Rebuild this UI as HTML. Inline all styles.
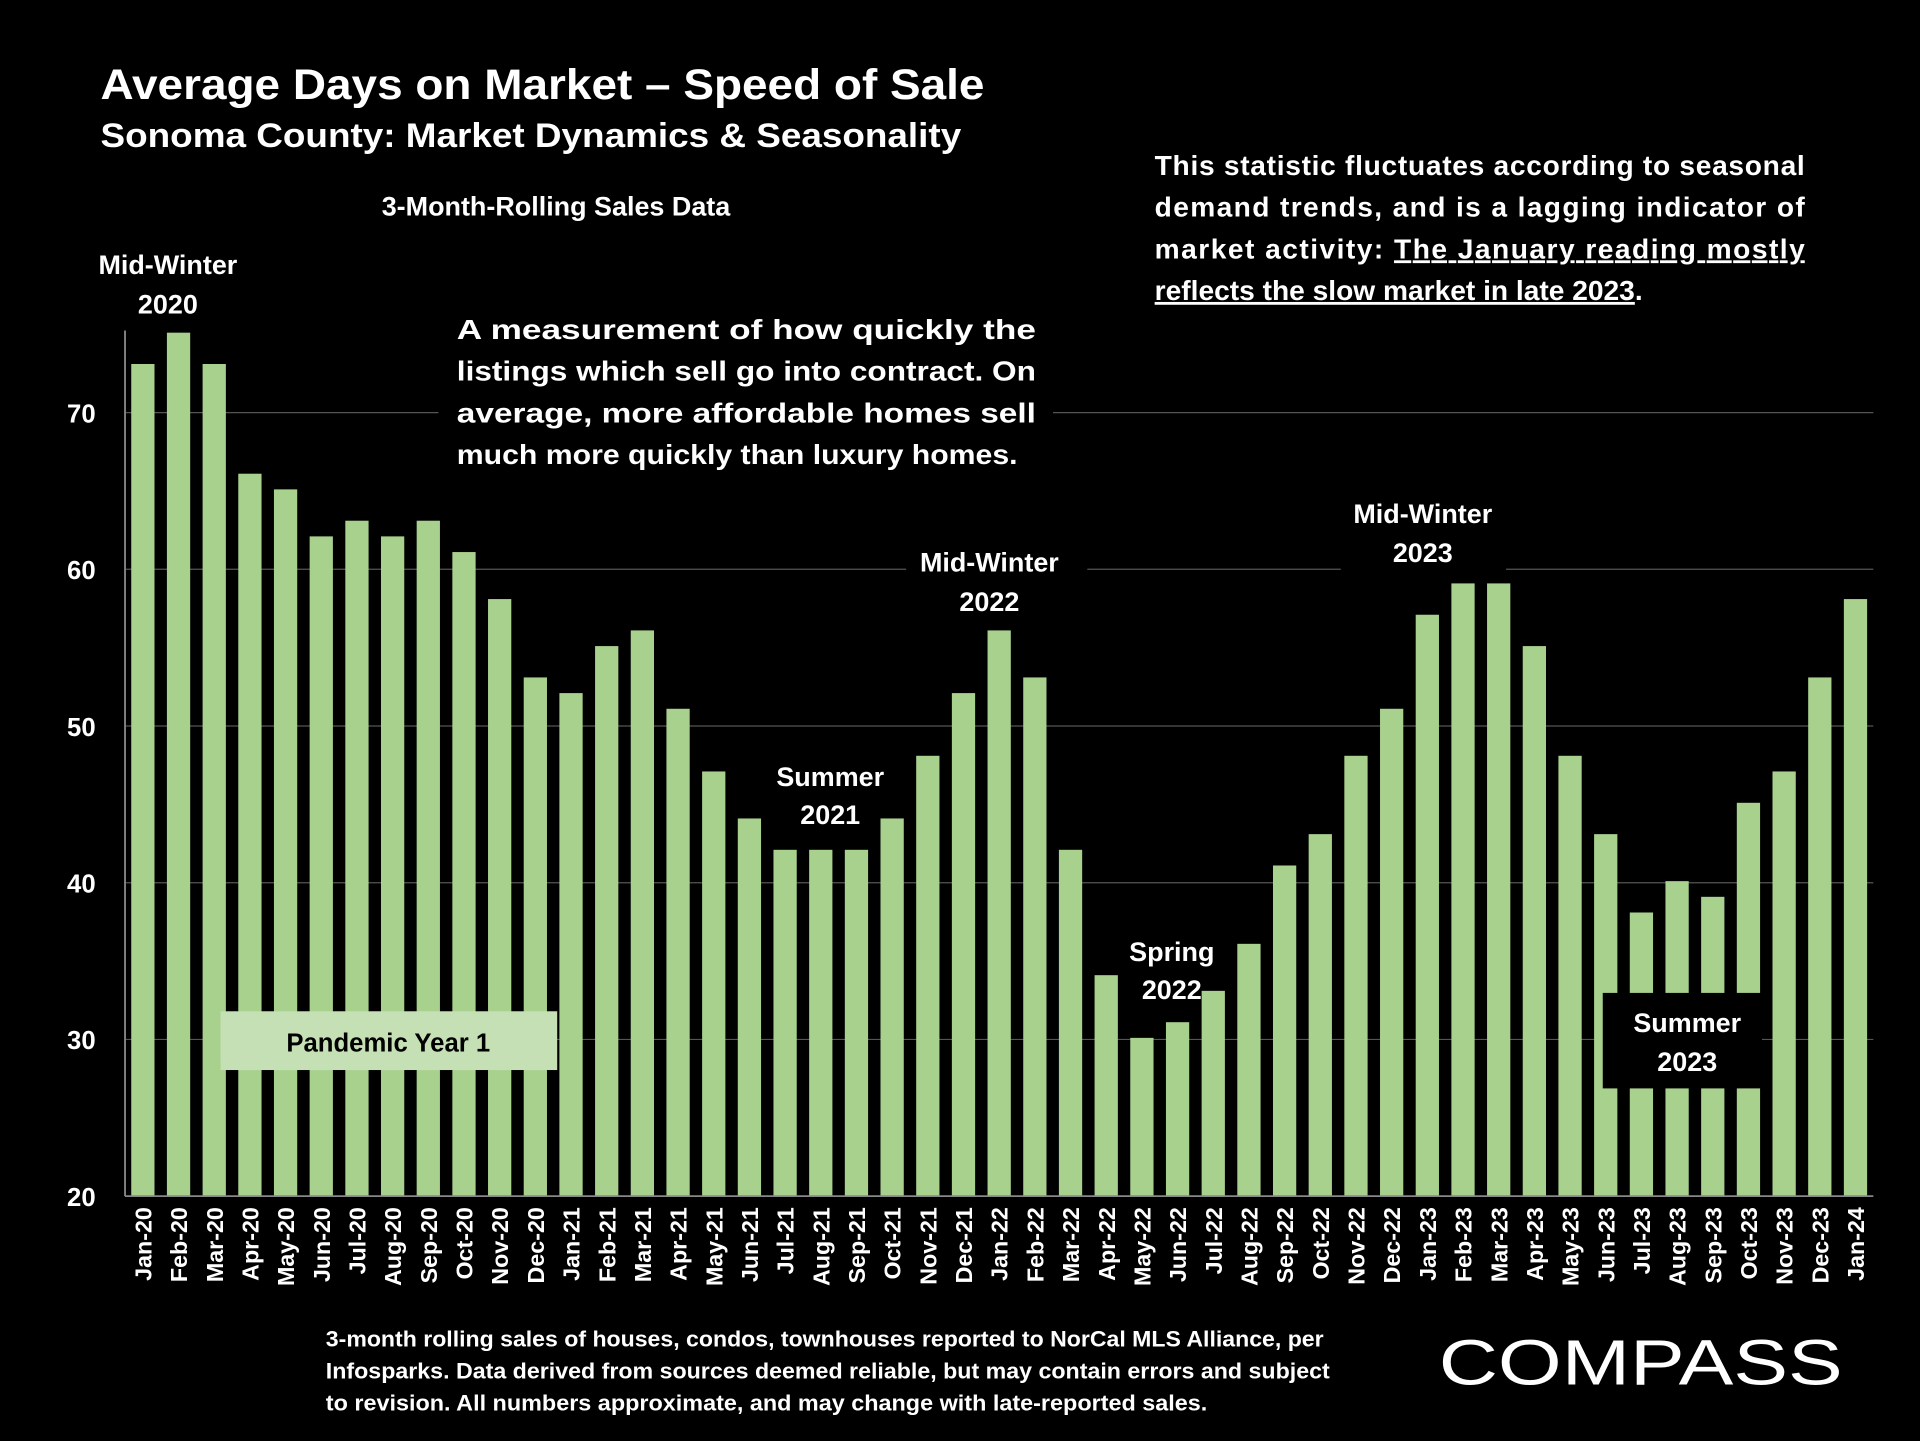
<!DOCTYPE html>
<html><head><meta charset="utf-8"><style>
html,body{margin:0;padding:0;background:#000;}
svg{display:block;}
text{font-family:"Liberation Sans",sans-serif;font-weight:bold;fill:#fff;}
</style></head><body>
<svg id="chart" width="1920" height="1441" viewBox="0 0 1568 1177" xmlns="http://www.w3.org/2000/svg">
<rect x="0" y="0" width="1568" height="1177" fill="#000"/>
<g id="grid"></g>
<g id="bars"></g>
<g id="yticks"></g>
<g id="xticks"></g>
<line x1="102" y1="977" x2="1530" y2="977" stroke="#888" stroke-width="1.5"/>
<line x1="102" y1="270" x2="102" y2="977" stroke="#888" stroke-width="1.5"/>

<text x="82" y="81" font-size="35" textLength="722" lengthAdjust="spacingAndGlyphs">Average Days on Market – Speed of Sale</text>
<text x="82" y="120" font-size="28" textLength="703" lengthAdjust="spacingAndGlyphs">Sonoma County: Market Dynamics &amp; Seasonality</text>
<text x="454" y="176" font-size="22" text-anchor="middle">3-Month-Rolling Sales Data</text>

<g font-size="23">
<rect x="935" y="115" width="550" height="140" fill="#000"/>
<text x="943" y="143" textLength="531" lengthAdjust="spacing">This statistic fluctuates according to seasonal</text>
<text x="943" y="177" textLength="531" lengthAdjust="spacing">demand trends, and is a lagging indicator of</text>
<text x="943" y="211" textLength="531" lengthAdjust="spacing">market activity: <tspan text-decoration="underline">The January reading mostly</tspan></text>
<text x="943" y="245"><tspan text-decoration="underline">reflects the slow market in late 2023</tspan>.</text>
</g>

<g font-size="23">
<rect x="358" y="250" width="502" height="140" fill="#000"/>
<text x="373" y="277" textLength="473" lengthAdjust="spacingAndGlyphs">A measurement of how quickly the</text>
<text x="373" y="311" textLength="473" lengthAdjust="spacingAndGlyphs">listings which sell go into contract. On</text>
<text x="373" y="345" textLength="473" lengthAdjust="spacingAndGlyphs">average, more affordable homes sell</text>
<text x="373" y="379" textLength="458" lengthAdjust="spacingAndGlyphs">much more quickly than luxury homes.</text>
</g>

<g font-size="22" text-anchor="middle">
<text x="137" y="224">Mid-Winter</text>
<text x="137" y="256">2020</text>
<rect x="740" y="442" width="148" height="68" fill="#000"/>
<text x="808" y="467">Mid-Winter</text>
<text x="808" y="499">2022</text>
<text x="678" y="642">Summer</text>
<text x="678" y="673">2021</text>
<rect x="1095" y="402" width="135" height="68" fill="#000"/>
<text x="1162" y="427">Mid-Winter</text>
<text x="1162" y="459">2023</text>
<text x="957" y="785">Spring</text>
<text x="957" y="816">2022</text>
<rect x="1309" y="811" width="130" height="78" fill="#000"/>
<text x="1378" y="843">Summer</text>
<text x="1378" y="875">2023</text>
</g>

<g>
<rect x="180" y="826" width="275" height="48" fill="#c5e0b4"/>
<text x="317" y="859" font-size="21" text-anchor="middle" style="fill:#000">Pandemic Year 1</text>
</g>

<g font-size="18">
<text x="266" y="1100" textLength="815" lengthAdjust="spacingAndGlyphs">3-month rolling sales of houses, condos, townhouses reported to NorCal MLS Alliance, per</text>
<text x="266" y="1126" textLength="820" lengthAdjust="spacingAndGlyphs">Infosparks. Data derived from sources deemed reliable, but may contain errors and subject</text>
<text x="266" y="1152" textLength="720" lengthAdjust="spacingAndGlyphs">to revision. All numbers approximate, and may change with late-reported sales.</text>
</g>
<text x="1175" y="1131" font-size="52" textLength="330" lengthAdjust="spacingAndGlyphs" style="font-weight:normal">COMPASS</text>
</svg>
<script>
const categories=["Jan-20","Feb-20","Mar-20","Apr-20","May-20","Jun-20","Jul-20","Aug-20","Sep-20","Oct-20","Nov-20","Dec-20","Jan-21","Feb-21","Mar-21","Apr-21","May-21","Jun-21","Jul-21","Aug-21","Sep-21","Oct-21","Nov-21","Dec-21","Jan-22","Feb-22","Mar-22","Apr-22","May-22","Jun-22","Jul-22","Aug-22","Sep-22","Oct-22","Nov-22","Dec-22","Jan-23","Feb-23","Mar-23","Apr-23","May-23","Jun-23","Jul-23","Aug-23","Sep-23","Oct-23","Nov-23","Dec-23","Jan-24"];
const values=[73.1,75.1,73.1,66.1,65.1,62.1,63.1,62.1,63.1,61.1,58.1,53.1,52.1,55.1,56.1,51.1,47.1,44.1,42.1,42.1,42.1,44.1,48.1,52.1,56.1,53.1,42.1,34.1,30.1,31.1,33.1,36.1,41.1,43.1,48.1,51.1,57.1,59.1,59.1,55.1,48.1,43.1,38.1,40.1,39.1,45.1,47.1,53.1,58.1];
const yTicks=[20,30,40,50,60,70];
const NS="http://www.w3.org/2000/svg";
const x0=102,x1=1530,yBase=977,yMin=20,pxPer=12.8;
function yScale(v){return yBase-(v-yMin)*pxPer;}
const step=(x1-x0)/categories.length;
function xCenter(i){return x0+step*(i+0.5);}
const grid=document.getElementById('grid'),bars=document.getElementById('bars'),yt=document.getElementById('yticks'),xt=document.getElementById('xticks');
yTicks.forEach(t=>{
  if(t>yMin){const l=document.createElementNS(NS,'line');
  l.setAttribute('x1',x0);l.setAttribute('x2',x1);l.setAttribute('y1',yScale(t));l.setAttribute('y2',yScale(t));
  l.setAttribute('stroke','#555');l.setAttribute('stroke-width','1');
  
  
  grid.appendChild(l);}
  const tx=document.createElementNS(NS,'text');
  tx.setAttribute('x',78);tx.setAttribute('y',yScale(t)+8);tx.setAttribute('font-size','21');tx.setAttribute('text-anchor','end');
  tx.textContent=t;
  
  
  yt.appendChild(tx);
});
const bw=19;
values.forEach((v,i)=>{
  const r=document.createElementNS(NS,'rect');
  r.setAttribute('x',xCenter(i)-bw/2);r.setAttribute('y',yScale(v));r.setAttribute('width',bw);r.setAttribute('height',yBase-yScale(v));
  r.setAttribute('fill','#a9d18e');
  
  
  bars.appendChild(r);
});
categories.forEach((c,i)=>{
  const tx=document.createElementNS(NS,'text');
  const cx=xCenter(i)+7,cy=986;
  tx.setAttribute('x',cx);tx.setAttribute('y',cy);tx.setAttribute('font-size','19');tx.setAttribute('text-anchor','end');
  tx.setAttribute('transform','rotate(-90 '+cx+' '+cy+')');
  tx.textContent=c;
  
  
  xt.appendChild(tx);
});
</script>
</body></html>
